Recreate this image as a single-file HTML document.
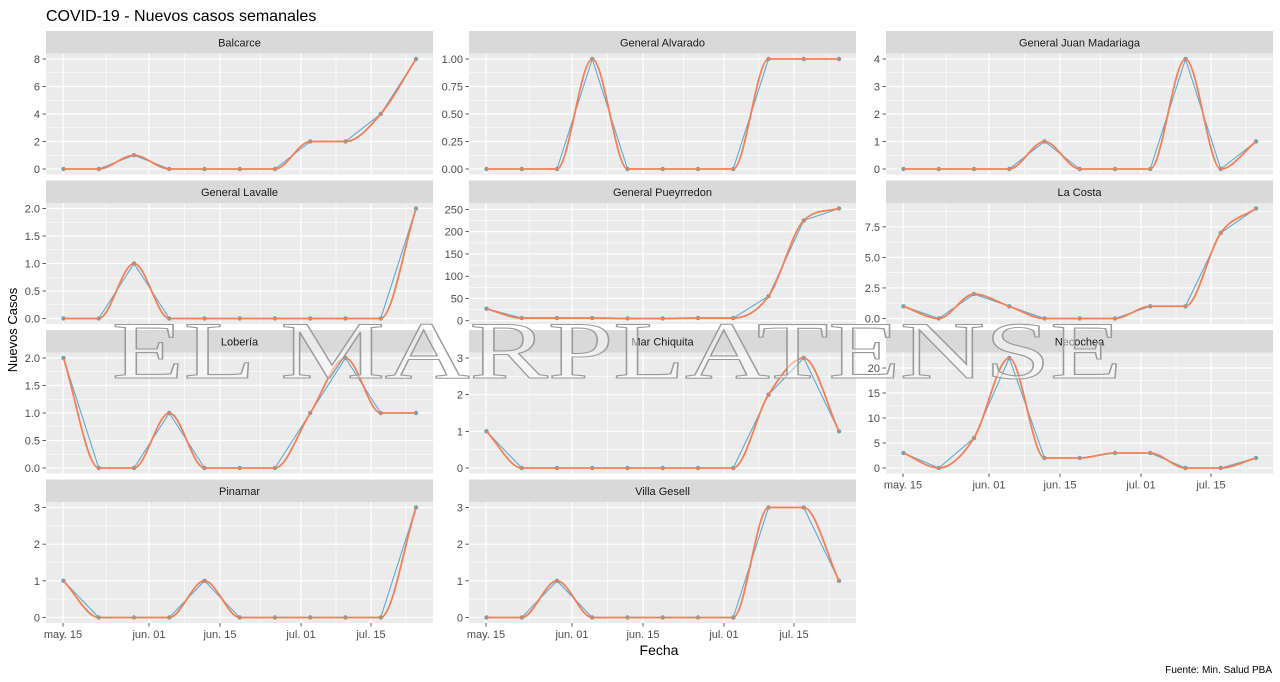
<!DOCTYPE html>
<html><head><meta charset="utf-8">
<style>
body{margin:0;background:#fff;}
svg{display:block;font-family:"Liberation Sans",Arial,sans-serif;}
</style></head>
<body>
<svg id="s" width="1280" height="682" xmlns="http://www.w3.org/2000/svg">
<rect width="1280" height="682" fill="#fff"/>
<text x="46" y="21" font-size="16" fill="#000">COVID-19 - Nuevos casos semanales</text>
<text transform="translate(17,330) rotate(-90)" font-size="13" text-anchor="middle" fill="#000">Nuevos Casos</text>
<text x="659" y="655" font-size="14" text-anchor="middle" fill="#000">Fecha</text>
<text x="1272" y="673" font-size="10" text-anchor="end" fill="#000">Fuente: Min. Salud PBA</text>
<g id="panels"></g>
<text x="617" y="378" font-family="Liberation Serif,serif" font-size="82" textLength="1010" lengthAdjust="spacingAndGlyphs" text-anchor="middle" fill="rgba(255,255,255,0.45)" stroke="#9a9a9a" stroke-width="1.1">EL MARPLATENSE</text>
</svg>
<script>
var P=[
["Balcarce",0,0,[0,0,1,0,0,0,0,2,2,4,8],[0,2,4,6,8],["0","2","4","6","8"]],
["General Alvarado",0,1,[0,0,0,1,0,0,0,0,1,1,1],[0,.25,.5,.75,1],["0.00","0.25","0.50","0.75","1.00"]],
["General Juan Madariaga",0,2,[0,0,0,0,1,0,0,0,4,0,1],[0,1,2,3,4],["0","1","2","3","4"]],
["General Lavalle",1,0,[0,0,1,0,0,0,0,0,0,0,2],[0,.5,1,1.5,2],["0.0","0.5","1.0","1.5","2.0"]],
["General Pueyrredon",1,1,[27,6,6,6,5,5,6,6,55,225,252],[0,50,100,150,200,250],["0","50","100","150","200","250"]],
["La Costa",1,2,[1,0,2,1,0,0,0,1,1,7,9],[0,2.5,5,7.5],["0.0","2.5","5.0","7.5"]],
["Lobería",2,0,[2,0,0,1,0,0,0,1,2,1,1],[0,.5,1,1.5,2],["0.0","0.5","1.0","1.5","2.0"]],
["Mar Chiquita",2,1,[1,0,0,0,0,0,0,0,2,3,1],[0,1,2,3],["0","1","2","3"]],
["Necochea",2,2,[3,0,6,22,2,2,3,3,0,0,2],[0,5,10,15,20],["0","5","10","15","20"]],
["Pinamar",3,0,[1,0,0,0,1,0,0,0,0,0,3],[0,1,2,3],["0","1","2","3"]],
["Villa Gesell",3,1,[0,0,1,0,0,0,0,0,3,3,1],[0,1,2,3],["0","1","2","3"]]
];
var CX=[46,469,886],W=387,XT=[17,103,174,255,325],XL=["may. 15","jun. 01","jun. 15","jul. 01","jul. 15"];
var h='';
P.forEach(function(p){
 var x0=CX[p[2]],st=31+149.5*p[1],top=st+22.5,H=121,bot=top+H;
 var d=p[3],lo=Math.min.apply(0,d),hi=Math.max.apply(0,d),pad=(hi-lo)*0.05;lo-=pad;hi+=pad;
 function Y(v){return bot-(v-lo)/(hi-lo)*H;}
 function X(i){return x0+17.5+i*35.25;}
 h+='<rect x="'+x0+'" y="'+st+'" width="'+W+'" height="22.5" fill="#d9d9d9"/>';
 h+='<text x="'+(x0+W/2)+'" y="'+(st+15.5)+'" font-size="11" text-anchor="middle" fill="#1a1a1a">'+p[0]+'</text>';
 h+='<rect x="'+x0+'" y="'+top+'" width="'+W+'" height="'+H+'" fill="#ebebeb"/>';
 var t=p[4],step=t[1]-t[0];
 for(var k=-1;k<t.length+1;k++){var v=t[0]+(k+0.5)*step;var y=Y(v);if(y>top&&y<bot)h+='<line x1="'+x0+'" x2="'+(x0+W)+'" y1="'+y+'" y2="'+y+'" stroke="#fff" stroke-width="0.6"/>';}
 var mx=[(XT[0]+XT[1])/2,(XT[1]+XT[2])/2,(XT[2]+XT[3])/2,(XT[3]+XT[4])/2,360];
 mx.forEach(function(m){h+='<line x1="'+(x0+m)+'" x2="'+(x0+m)+'" y1="'+top+'" y2="'+bot+'" stroke="#fff" stroke-width="0.6"/>';});
 t.forEach(function(v,i){var y=Y(v);h+='<line x1="'+x0+'" x2="'+(x0+W)+'" y1="'+y+'" y2="'+y+'" stroke="#fff" stroke-width="1.2"/>';
  h+='<line x1="'+(x0-3.5)+'" x2="'+x0+'" y1="'+y+'" y2="'+y+'" stroke="#333" stroke-width="0.8"/>';
  h+='<text x="'+(x0-6)+'" y="'+(y+4)+'" font-size="11" text-anchor="end" fill="#4d4d4d">'+p[5][i]+'</text>';});
 XT.forEach(function(o,i){h+='<line x1="'+(x0+o)+'" x2="'+(x0+o)+'" y1="'+top+'" y2="'+bot+'" stroke="#fff" stroke-width="1.2"/>';
  if(p[1]==3||(p[1]==2&&p[2]==2)){h+='<line x1="'+(x0+o)+'" x2="'+(x0+o)+'" y1="'+bot+'" y2="'+(bot+3.5)+'" stroke="#333" stroke-width="0.8"/>';
  h+='<text x="'+(x0+o)+'" y="'+(bot+15)+'" font-size="11" text-anchor="middle" fill="#4d4d4d">'+XL[i]+'</text>';}});
 var pts=d.map(function(v,i){return [X(i),Y(v)];});
 var bl='M'+pts.map(function(q){return q[0]+','+q[1];}).join('L');
 h+='<path d="'+bl+'" fill="none" stroke="#5fa8d3" stroke-width="1.1"/>';
 // monotone cubic
 var n=pts.length,dx=35.25,sl=[],m=[];
 for(var i=0;i<n-1;i++)sl.push((pts[i+1][1]-pts[i][1])/dx);
 m[0]=sl[0];m[n-1]=sl[n-2];
 for(var i=1;i<n-1;i++){m[i]=(sl[i-1]*sl[i]<=0)?0:(sl[i-1]+sl[i])/2;}
 for(var i=0;i<n-1;i++){if(sl[i]==0){m[i]=0;m[i+1]=0;continue;}var a=m[i]/sl[i],b=m[i+1]/sl[i],q=a*a+b*b;if(q>9){var tt=3/Math.sqrt(q);m[i]=tt*a*sl[i];m[i+1]=tt*b*sl[i];}}
 var s='M'+pts[0][0]+','+pts[0][1];
 for(var i=0;i<n-1;i++){var p1=pts[i],p2=pts[i+1];
  s+='C'+(p1[0]+dx/3)+','+(p1[1]+m[i]*dx/3)+' '+(p2[0]-dx/3)+','+(p2[1]-m[i+1]*dx/3)+' '+p2[0]+','+p2[1];}
 pts.forEach(function(q){h+='<circle cx="'+q[0]+'" cy="'+q[1]+'" r="2.2" fill="#6f9fb0"/>';});
 h+='<path d="'+s+'" fill="none" stroke="#f47f55" stroke-width="1.8"/>';
});
document.getElementById('panels').innerHTML=h;
</script>
</body></html>
